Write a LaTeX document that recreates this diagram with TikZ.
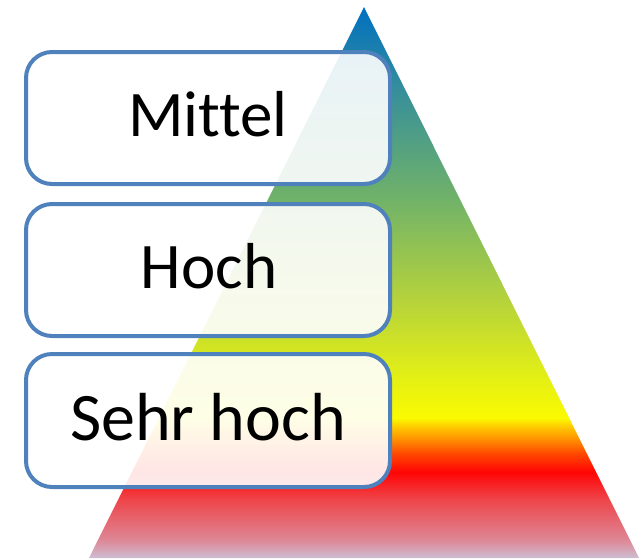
\documentclass[tikz,border=0pt]{standalone}
\usepackage{fontspec}
\setmainfont[Ligatures=NoCommon]{Carlito}
\definecolor{c0}{RGB}{205,190,210}
\definecolor{c1}{RGB}{222,135,150}
\definecolor{c2}{RGB}{238,70,75}
\definecolor{c3}{RGB}{255,5,5}
\definecolor{c4}{RGB}{255,70,0}
\definecolor{c5}{RGB}{255,140,0}
\definecolor{c6}{RGB}{255,200,0}
\definecolor{c7}{RGB}{250,250,0}
\definecolor{c8}{RGB}{228,240,20}
\definecolor{c9}{RGB}{180,210,60}
\definecolor{c10}{RGB}{112,178,105}
\definecolor{c11}{RGB}{60,146,150}
\definecolor{c12}{RGB}{0,112,192}
\definecolor{boxline}{RGB}{79,129,189}
\pgfdeclareverticalshading{pyr}{100bp}{
  color(0bp)=(c0);
  color(25bp)=(c0);
  color(26.63bp)=(c1);
  color(30.26bp)=(c2);
  color(32.8bp)=(c3);
  color(34.44bp)=(c4);
  color(35.71bp)=(c5);
  color(36.89bp)=(c6);
  color(37.7bp)=(c7);
  color(41.33bp)=(c8);
  color(48.59bp)=(c9);
  color(57.67bp)=(c10);
  color(66.56bp)=(c11);
  color(75bp)=(c12);
  color(100bp)=(c12)}
\tikzset{
  lvl/.style={draw=boxline, line width=4pt, fill=white, fill opacity=0.9, draw opacity=1, rounded corners=26pt},
  lbl/.style={anchor=base, font=\fontsize{65}{70}\selectfont, inner sep=0pt, text=black}
}
\begin{document}
\begin{tikzpicture}[x=1pt,y=-1pt]
\useasboundingbox (0,0) rectangle (640,558);
\shade[shading=pyr] (364,7) -- (639,558) -- (89,558) -- cycle;
\path[lvl] (26,52) rectangle (390,184);
\path[lvl] (26,204) rectangle (390,336);
\path[lvl] (26,354) rectangle (390,487);
\node[lbl] (m) at (208,136) {Mittel};
\node[lbl] (h) at (209,288) {Hoch};
\node[lbl, font=\fontsize{68}{72}\selectfont] (s) at (208,440) {Sehr hoch};
\end{tikzpicture}
\end{document}
